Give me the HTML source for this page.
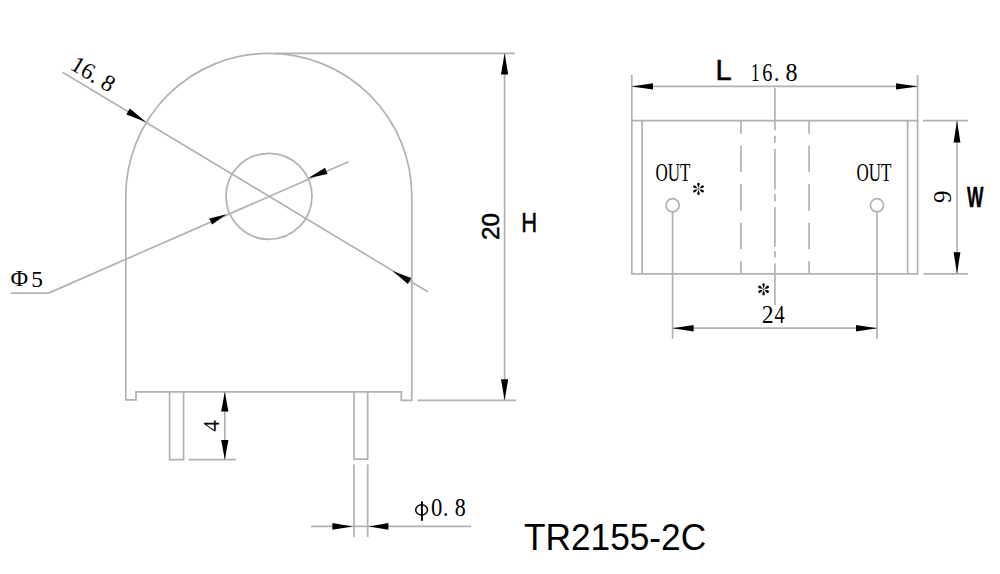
<!DOCTYPE html>
<html><head><meta charset="utf-8"><style>
html,body{margin:0;padding:0;background:#fff;}
svg{display:block;}
</style></head><body>
<svg width="1000" height="574" viewBox="0 0 1000 574">
<rect width="1000" height="574" fill="#fff"/>
<path d="M125.80,196.30 A143.0,143.0 0 0 1 411.80,196.30" fill="none" stroke="#b2b2b2" stroke-width="1.7"/>
<polyline points="125.80,196.30 125.80,399.80 136.00,399.80 136.00,391.80 401.30,391.80 401.30,400.30 411.80,400.30 411.80,196.30" fill="none" stroke="#b2b2b2" stroke-width="1.7"/>
<line x1="275.00" y1="53.30" x2="515.00" y2="53.30" stroke="#b2b2b2" stroke-width="1.7"/>
<circle cx="269" cy="196.3" r="43" fill="none" stroke="#b2b2b2" stroke-width="1.7"/>
<line x1="62.50" y1="72.20" x2="427.80" y2="291.80" stroke="#b2b2b2" stroke-width="1.7"/>
<polygon points="146.00,122.00 129.82,108.57 126.38,114.43" fill="#000"/>
<polygon points="392.50,271.10 407.90,283.94 411.30,278.06" fill="#000"/>
<line x1="11.00" y1="293.10" x2="48.50" y2="293.10" stroke="#b2b2b2" stroke-width="1.7"/>
<line x1="48.50" y1="293.10" x2="348.50" y2="161.80" stroke="#b2b2b2" stroke-width="1.7"/>
<polygon points="308.40,178.00 327.55,174.06 325.05,167.74" fill="#000"/>
<polygon points="226.50,214.30 209.29,218.41 212.11,224.59" fill="#000"/>
<polyline points="169.60,391.80 169.60,459.70 183.60,459.70 183.60,391.80" fill="none" stroke="#b2b2b2" stroke-width="1.7"/>
<polyline points="354.00,391.80 354.00,459.10 367.70,459.10 367.70,391.80" fill="none" stroke="#b2b2b2" stroke-width="1.7"/>
<line x1="354.00" y1="464.40" x2="354.00" y2="537.00" stroke="#b2b2b2" stroke-width="1.7"/>
<line x1="367.70" y1="464.40" x2="367.70" y2="537.00" stroke="#b2b2b2" stroke-width="1.7"/>
<line x1="188.80" y1="459.70" x2="235.80" y2="459.70" stroke="#b2b2b2" stroke-width="1.7"/>
<line x1="224.80" y1="391.80" x2="224.80" y2="459.70" stroke="#b2b2b2" stroke-width="1.7"/>
<polygon points="224.80,391.80 221.20,411.50 228.40,411.50" fill="#000"/>
<polygon points="224.80,459.70 228.40,440.00 221.20,440.00" fill="#000"/>
<line x1="417.60" y1="400.30" x2="516.00" y2="400.30" stroke="#b2b2b2" stroke-width="1.7"/>
<line x1="504.60" y1="53.30" x2="504.60" y2="400.30" stroke="#b2b2b2" stroke-width="1.7"/>
<polygon points="504.60,53.30 501.00,74.40 508.20,74.40" fill="#000"/>
<polygon points="504.60,400.30 508.20,379.20 501.00,379.20" fill="#000"/>
<line x1="311.00" y1="526.40" x2="471.00" y2="526.40" stroke="#b2b2b2" stroke-width="1.7"/>
<polygon points="352.50,526.40 332.40,523.10 332.40,529.70" fill="#000"/>
<polygon points="369.00,526.40 388.40,529.70 388.40,523.10" fill="#000"/>
<polyline points="631.80,120.60 917.60,120.60 917.60,273.80 631.80,273.80 631.80,120.60" fill="none" stroke="#b2b2b2" stroke-width="1.7"/>
<line x1="642.10" y1="120.60" x2="642.10" y2="273.80" stroke="#b2b2b2" stroke-width="1.7"/>
<line x1="907.60" y1="120.60" x2="907.60" y2="273.80" stroke="#b2b2b2" stroke-width="1.7"/>
<line x1="631.80" y1="75.00" x2="631.80" y2="120.60" stroke="#b2b2b2" stroke-width="1.7"/>
<line x1="917.60" y1="75.00" x2="917.60" y2="120.60" stroke="#b2b2b2" stroke-width="1.7"/>
<line x1="631.80" y1="86.40" x2="917.60" y2="86.40" stroke="#b2b2b2" stroke-width="1.7"/>
<polygon points="631.80,86.40 653.00,89.60 653.00,83.20" fill="#000"/>
<polygon points="917.60,86.40 896.00,83.20 896.00,89.60" fill="#000"/>
<line x1="740.90" y1="120.60" x2="740.90" y2="133.80" stroke="#b2b2b2" stroke-width="1.7"/>
<line x1="740.90" y1="145.60" x2="740.90" y2="172.10" stroke="#b2b2b2" stroke-width="1.7"/>
<line x1="740.90" y1="184.00" x2="740.90" y2="210.80" stroke="#b2b2b2" stroke-width="1.7"/>
<line x1="740.90" y1="222.70" x2="740.90" y2="249.30" stroke="#b2b2b2" stroke-width="1.7"/>
<line x1="740.90" y1="261.20" x2="740.90" y2="273.80" stroke="#b2b2b2" stroke-width="1.7"/>
<line x1="809.10" y1="120.60" x2="809.10" y2="133.80" stroke="#b2b2b2" stroke-width="1.7"/>
<line x1="809.10" y1="145.60" x2="809.10" y2="172.10" stroke="#b2b2b2" stroke-width="1.7"/>
<line x1="809.10" y1="184.00" x2="809.10" y2="210.80" stroke="#b2b2b2" stroke-width="1.7"/>
<line x1="809.10" y1="222.70" x2="809.10" y2="249.30" stroke="#b2b2b2" stroke-width="1.7"/>
<line x1="809.10" y1="261.20" x2="809.10" y2="273.80" stroke="#b2b2b2" stroke-width="1.7"/>
<line x1="774.90" y1="88.00" x2="774.90" y2="130.20" stroke="#b2b2b2" stroke-width="1.7"/>
<line x1="774.90" y1="135.70" x2="774.90" y2="142.70" stroke="#b2b2b2" stroke-width="1.7"/>
<line x1="774.90" y1="149.00" x2="774.90" y2="189.50" stroke="#b2b2b2" stroke-width="1.7"/>
<line x1="774.90" y1="194.00" x2="774.90" y2="201.50" stroke="#b2b2b2" stroke-width="1.7"/>
<line x1="774.90" y1="207.00" x2="774.90" y2="246.70" stroke="#b2b2b2" stroke-width="1.7"/>
<line x1="774.90" y1="250.90" x2="774.90" y2="257.80" stroke="#b2b2b2" stroke-width="1.7"/>
<line x1="774.90" y1="263.40" x2="774.90" y2="305.00" stroke="#b2b2b2" stroke-width="1.7"/>
<circle cx="672.6" cy="205.3" r="6.6" fill="none" stroke="#b2b2b2" stroke-width="1.7"/>
<circle cx="877.0" cy="205.3" r="6.6" fill="none" stroke="#b2b2b2" stroke-width="1.7"/>
<line x1="672.60" y1="211.90" x2="672.60" y2="338.70" stroke="#b2b2b2" stroke-width="1.7"/>
<line x1="877.00" y1="211.90" x2="877.00" y2="338.70" stroke="#b2b2b2" stroke-width="1.7"/>
<line x1="672.60" y1="328.20" x2="877.00" y2="328.20" stroke="#b2b2b2" stroke-width="1.7"/>
<polygon points="672.60,328.20 693.60,331.50 693.60,324.90" fill="#000"/>
<polygon points="877.00,328.20 856.00,324.90 856.00,331.50" fill="#000"/>
<line x1="923.00" y1="120.60" x2="968.00" y2="120.60" stroke="#b2b2b2" stroke-width="1.7"/>
<line x1="923.50" y1="273.80" x2="968.00" y2="273.80" stroke="#b2b2b2" stroke-width="1.7"/>
<line x1="957.00" y1="120.60" x2="957.00" y2="273.80" stroke="#b2b2b2" stroke-width="1.7"/>
<polygon points="957.00,120.60 953.60,142.40 960.40,142.40" fill="#000"/>
<polygon points="957.00,273.80 960.40,252.30 953.60,252.30" fill="#000"/>
<text transform="translate(0.00,0.00)" font-family="Liberation Serif" font-size="1" font-weight="normal" text-anchor="start" fill="#000"></text>

<g font-family="Liberation Serif" fill="#000">
<text transform="translate(69,68.5) rotate(31.07)" font-size="23.5">16. 8</text>
<text transform="translate(219,431.8) rotate(-90)" font-size="23">4</text>
<text transform="translate(655.5,181.2) scale(0.68,1)" font-size="25">OUT</text>
<text transform="translate(856.5,180.9) scale(0.68,1)" font-size="25">OUT</text>
<text transform="translate(951.4,203) rotate(-90)" font-size="25">9</text>
</g>
<g font-family="Liberation Sans" fill="#000" stroke="#000" stroke-width="0.5">
<text transform="translate(499,239.9) rotate(-90)" font-size="24">20</text>
<text transform="translate(521.3,232.4) scale(0.77,1)" font-size="28.5">H</text>
<text transform="translate(715.5,79.6)" font-size="29">L</text>
<text transform="translate(967,207.1) scale(0.58,1)" font-size="30" font-weight="bold">W</text>
</g>
<text transform="translate(524,550) scale(0.94,1)" font-family="Liberation Sans" font-size="37.5">TR2155-2C</text>
<text transform="translate(10.57,285.80) scale(1.069,1)" font-family="Liberation Serif" font-weight="normal" font-size="22.6" >&#934;</text>
<text transform="translate(31.34,287.26) scale(0.969,1)" font-family="Liberation Serif" font-weight="normal" font-size="24.08" >5</text>
<ellipse cx="421.6" cy="509.9" rx="5.9" ry="5.1" fill="none" stroke="#000" stroke-width="1.5"/>
<line x1="421.9" y1="501.3" x2="421.9" y2="520.8" stroke="#000" stroke-width="1.9"/>
<text transform="translate(431.04,515.96) scale(0.915,1)" font-family="Liberation Serif" font-weight="normal" font-size="24.75" >0</text>
<text transform="translate(442.67,515.95) scale(0.950,1)" font-family="Liberation Serif" font-weight="normal" font-size="24.5" >.</text>
<text transform="translate(454.76,515.96) scale(0.903,1)" font-family="Liberation Serif" font-weight="normal" font-size="24.3" >8</text>
<text transform="translate(751.00,80.80) scale(0.695,1)" font-family="Liberation Serif" font-weight="normal" font-size="24.54" >1</text>
<text transform="translate(762.13,80.86) scale(0.814,1)" font-family="Liberation Serif" font-weight="normal" font-size="25.0" >6</text>
<text transform="translate(773.77,80.95) scale(0.950,1)" font-family="Liberation Serif" font-weight="normal" font-size="24.5" >.</text>
<text transform="translate(785.48,80.85) scale(0.950,1)" font-family="Liberation Serif" font-weight="normal" font-size="25.34" >8</text>
<text transform="translate(761.76,323.00) scale(0.940,1)" font-family="Liberation Serif" font-weight="normal" font-size="25.22" >2</text>
<text transform="translate(774.51,323.00) scale(0.807,1)" font-family="Liberation Serif" font-weight="normal" font-size="25.07" >4</text>
<g transform="translate(698.5,188.9) scale(1.000)" fill="#000"><path transform="rotate(0)" d="M0,-0.8 C-0.4,-2.1 -1.2,-3.5 -1.2,-4.85 A1.2,1.2 0 0 1 1.2,-4.85 C1.2,-3.5 0.4,-2.1 0,-0.8 Z"/><path transform="rotate(60)" d="M0,-0.8 C-0.4,-2.1 -1.2,-3.5 -1.2,-4.85 A1.2,1.2 0 0 1 1.2,-4.85 C1.2,-3.5 0.4,-2.1 0,-0.8 Z"/><path transform="rotate(120)" d="M0,-0.8 C-0.4,-2.1 -1.2,-3.5 -1.2,-4.85 A1.2,1.2 0 0 1 1.2,-4.85 C1.2,-3.5 0.4,-2.1 0,-0.8 Z"/><path transform="rotate(180)" d="M0,-0.8 C-0.4,-2.1 -1.2,-3.5 -1.2,-4.85 A1.2,1.2 0 0 1 1.2,-4.85 C1.2,-3.5 0.4,-2.1 0,-0.8 Z"/><path transform="rotate(240)" d="M0,-0.8 C-0.4,-2.1 -1.2,-3.5 -1.2,-4.85 A1.2,1.2 0 0 1 1.2,-4.85 C1.2,-3.5 0.4,-2.1 0,-0.8 Z"/><path transform="rotate(300)" d="M0,-0.8 C-0.4,-2.1 -1.2,-3.5 -1.2,-4.85 A1.2,1.2 0 0 1 1.2,-4.85 C1.2,-3.5 0.4,-2.1 0,-0.8 Z"/><circle r="0.6"/></g>
<g transform="translate(763.6,289.3) scale(1.000)" fill="#000"><path transform="rotate(0)" d="M0,-0.8 C-0.4,-2.1 -1.2,-3.5 -1.2,-4.85 A1.2,1.2 0 0 1 1.2,-4.85 C1.2,-3.5 0.4,-2.1 0,-0.8 Z"/><path transform="rotate(60)" d="M0,-0.8 C-0.4,-2.1 -1.2,-3.5 -1.2,-4.85 A1.2,1.2 0 0 1 1.2,-4.85 C1.2,-3.5 0.4,-2.1 0,-0.8 Z"/><path transform="rotate(120)" d="M0,-0.8 C-0.4,-2.1 -1.2,-3.5 -1.2,-4.85 A1.2,1.2 0 0 1 1.2,-4.85 C1.2,-3.5 0.4,-2.1 0,-0.8 Z"/><path transform="rotate(180)" d="M0,-0.8 C-0.4,-2.1 -1.2,-3.5 -1.2,-4.85 A1.2,1.2 0 0 1 1.2,-4.85 C1.2,-3.5 0.4,-2.1 0,-0.8 Z"/><path transform="rotate(240)" d="M0,-0.8 C-0.4,-2.1 -1.2,-3.5 -1.2,-4.85 A1.2,1.2 0 0 1 1.2,-4.85 C1.2,-3.5 0.4,-2.1 0,-0.8 Z"/><path transform="rotate(300)" d="M0,-0.8 C-0.4,-2.1 -1.2,-3.5 -1.2,-4.85 A1.2,1.2 0 0 1 1.2,-4.85 C1.2,-3.5 0.4,-2.1 0,-0.8 Z"/><circle r="0.6"/></g>
</svg>
</body></html>
